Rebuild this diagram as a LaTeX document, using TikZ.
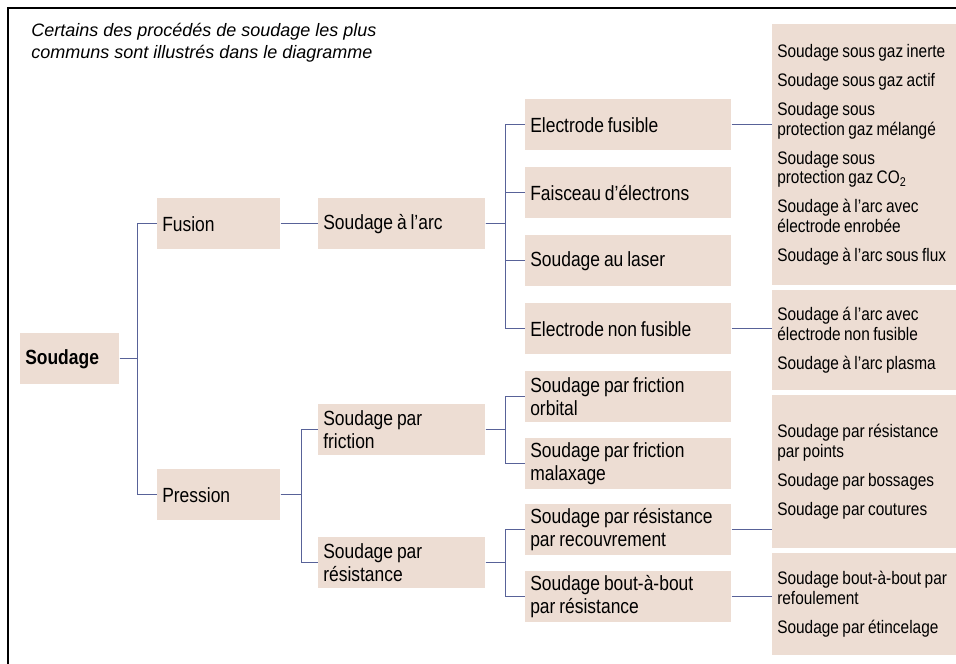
\documentclass[tikz,border=0pt]{standalone}
\usepackage{fontspec}
\setmainfont{Liberation Sans}[FakeStretch=0.85, WordSpace=0.8]
\newfontfamily\titlefont{Liberation Sans}
\usepackage{tikz}

\definecolor{boxfill}{RGB}{237,221,211}
\definecolor{linkblue}{RGB}{88,98,152}

\tikzset{
	box/.style={fill=boxfill, anchor=north west, inner xsep=0.125cm, inner ysep=0pt, align=flush left, text width=#1, minimum height=1.275cm, font=\fontsize{14.6}{16.4}\selectfont},
	listbox/.style={fill=boxfill, anchor=north west, inner xsep=0.125cm, inner ysep=0pt, align=flush left, text width=4.35cm, minimum height=#1, font=\fontsize{12.9}{13.9}\selectfont},
	link/.style={draw=linkblue, line width=0.6pt},
}

\begin{document}
\begin{tikzpicture}[x=0.025cm, y=-0.025cm]
	\useasboundingbox (0,0) rectangle (956,664);

	% Frame
	\draw[line width=1.2pt] (8,664) -- (8,8) -- (956,8);

	% Title
	\node[anchor=north west, inner sep=0pt, align=left, font=\titlefont\itshape\fontsize{12.8}{15.6}\selectfont] (title) at (31,23) {Certains des procédés de soudage les plus\\communs sont illustrés dans le diagramme};

	% Main boxes
	\node[box=2.225cm] (soudage) at (20,333) {\bfseries Soudage};
	\node[box=2.825cm] (fusion) at (157,198) {Fusion};
	\node[box=2.825cm] (pression) at (157,469) {Pression};
	\node[box=3.925cm] (arc) at (318,198) {Soudage à l’arc};
	\node[box=3.925cm] (friction) at (318,404) {Soudage par\\friction};
	\node[box=3.925cm] (resist) at (318,537) {Soudage par\\résistance};

	\node[box=4.9cm] (efus) at (525,99) {Electrode fusible};
	\node[box=4.9cm] (faisc) at (525,167) {Faisceau d’électrons};
	\node[box=4.9cm] (laser) at (525,235) {Soudage au laser};
	\node[box=4.9cm] (nfus) at (525,303) {Electrode non fusible};
	\node[box=4.9cm] (orbital) at (525,371) {Soudage par friction\\orbital};
	\node[box=4.9cm] (malax) at (525,438) {Soudage par friction\\malaxage};
	\node[box=4.9cm] (recouv) at (525,504) {Soudage par résistance\\par recouvrement};
	\node[box=4.9cm] (bout) at (525,571) {Soudage bout-à-bout\\par résistance};

	% Lists of processes
	\node[listbox=6.525cm] (gaz) at (772,24) {Soudage sous gaz inerte\\[6.8pt]
		Soudage sous gaz actif\\[6.8pt]
		Soudage sous\\protection gaz mélangé\\[6.8pt]
		Soudage sous\\protection gaz CO\textsubscript{2}\\[6.8pt]
		Soudage à l’arc avec\\électrode enrobée\\[6.8pt]
		Soudage à l’arc sous flux};
	\node[listbox=2.5cm] (plasma) at (772,290) {Soudage á l’arc avec\\électrode non fusible\\[6.8pt]
		Soudage à l’arc plasma};
	\node[listbox=3.825cm] (points) at (772,395) {Soudage par résistance\\par points\\[6.8pt]
		Soudage par bossages\\[6.8pt]
		Soudage par coutures};
	\node[listbox=2.55cm] (etinc) at (772,553) {Soudage bout-à-bout par\\refoulement\\[6.8pt]
		Soudage par étincelage};

	% Links
	\foreach \child in {fusion,pression}
		\draw[link] (soudage.east) -- ++(18,0) |- (\child.west);
	\draw[link] (fusion.east) -- (arc.west);
	\foreach \child in {efus,faisc,laser,nfus}
		\draw[link] (arc.east) -- ++(20,0) |- (\child.west);
	\foreach \child in {friction,resist}
		\draw[link] (pression.east) -- ++(21,0) |- (\child.west);
	\foreach \child in {orbital,malax}
		\draw[link] (friction.east) -- ++(20,0) |- (\child.west);
	\foreach \child in {recouv,bout}
		\draw[link] (resist.east) -- ++(20,0) |- (\child.west);

	\draw[link] (efus.east) -- (efus.east -| gaz.west);
	\draw[link] (nfus.east) -- (nfus.east -| plasma.west);
	\draw[link] (recouv.east) -- (recouv.east -| points.west);
	\draw[link] (bout.east) -- (bout.east -| etinc.west);

\end{tikzpicture}
\end{document}
